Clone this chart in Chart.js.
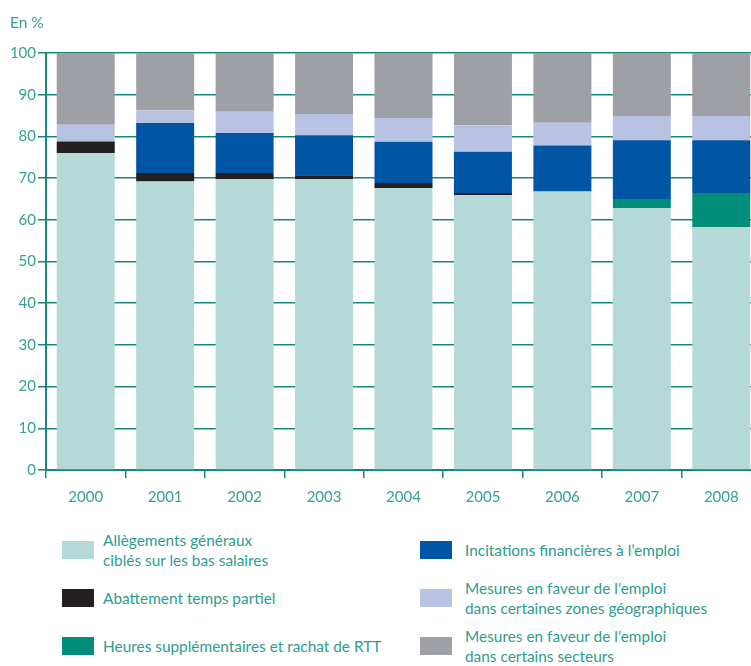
<!DOCTYPE html>
<html>
<head>
<meta charset="utf-8">
<script src="https://cdn.jsdelivr.net/npm/chart.js@4/dist/chart.umd.min.js"></script>
<style>
  html, body { margin: 0; padding: 0; background: #fff; overflow: hidden; }
  #wrap { position: relative; width: 751px; height: 666px; overflow: hidden; }
  #box { position: absolute; left: 0; top: 0; width: 761px; height: 520px; }
  #unit { position: absolute; left: 10px; top: 13px; font: 15.5px Lato, sans-serif; color: #35a094; }
  .lg { position: absolute; display: flex; align-items: center; font: 15.4px Lato, sans-serif; color: #2e9c8f; line-height: 20px; }
  .lg i { display: inline-block; width: 32px; height: 18px; flex: none; }
</style>
</head>
<body>
<div id="wrap">
  <div id="box"><canvas id="c"></canvas></div>
  <div id="unit">En %</div>
  <div id="legend"></div>
</div>
<script>
const years = ['2000', '2001', '2002', '2003', '2004', '2005', '2006', '2007', '2008'];

// parts of the total, in %, bottom to top
const allegements = [76.0, 69.2, 69.7, 69.7, 67.6, 65.9, 66.8, 62.8, 58.2];
const abattement  = [2.8, 2.0, 1.5, 1.0, 1.2, 0.5, 0, 0, 0];
const heuresSup   = [0, 0, 0, 0, 0, 0, 0, 2.2, 8.2];
const incitations = [0, 12.0, 9.6, 9.6, 9.9, 9.9, 11.0, 14.1, 12.7];
const zones       = [4.0, 3.1, 5.1, 5.1, 5.7, 6.4, 5.5, 5.8, 5.8];
const secteurs    = [17.2, 13.7, 14.1, 14.6, 15.6, 17.3, 16.7, 15.1, 15.1];

const seriesNames = [
  ['Allègements généraux', 'ciblés sur les bas salaires'],
  ['Abattement temps partiel'],
  ['Heures supplémentaires et rachat de RTT'],
  ['Incitations financières à l’emploi'],
  ["Mesures en faveur de l'emploi", 'dans certaines zones géographiques'],
  ["Mesures en faveur de l'emploi", 'dans certains secteurs'],
];
const seriesData = [allegements, abattement, heuresSup, incitations, zones, secteurs];
const seriesColors = ['#b4d9d6', '#231f20', '#008e7b', '#0055a5', '#b8c2e2', '#9fa0a5'];

const teal = '#17877a';
const textTeal = '#35a094';

new Chart(document.getElementById('c'), {
  type: 'bar',
  data: {
    labels: years,
    datasets: seriesData.map((d, i) => ({
      label: seriesNames[i].join(' '),
      data: d,
      backgroundColor: seriesColors[i],
      borderWidth: 0,
      categoryPercentage: 1,
      barPercentage: 0.73,
    })),
  },
  options: {
    responsive: true,
    maintainAspectRatio: false,
    animation: false,
    layout: { padding: { top: 53, left: 0, right: 0, bottom: 0 } },
    scales: {
      x: {
        stacked: true,
        grid: { display: true, drawOnChartArea: false, color: teal, lineWidth: 1.5, tickLength: 8, offset: true },
        border: { color: teal, width: 2 },
        ticks: { color: textTeal, font: { family: 'Lato', size: 15 }, padding: 10 },
        afterFit: s => { s.height = 50; },
      },
      y: {
        stacked: true,
        min: 0, max: 100,
        grid: { color: teal, lineWidth: 1.5, tickLength: 8 },
        border: { color: teal, width: 2 },
        ticks: { stepSize: 10, color: textTeal, font: { family: 'Lato', size: 15 }, padding: 2 },
        afterFit: s => { s.width = 46; },
      },
    },
    plugins: { legend: { display: false }, tooltip: { enabled: false } },
  },
});

// legend, two columns, three rows
const legendPos = [
  { x: 62, y: 541, gap: 9 }, { x: 62, y: 589, gap: 9 }, { x: 62, y: 637, gap: 9 },
  { x: 420, y: 541, gap: 13 }, { x: 420, y: 589, gap: 13 }, { x: 420, y: 637, gap: 13 },
];
const legend = document.getElementById('legend');
seriesNames.forEach((lines, i) => {
  const el = document.createElement('div');
  el.className = 'lg';
  el.style.left = legendPos[i].x + 'px';
  el.style.top = (legendPos[i].y + 9 - lines.length * 10) + 'px';
  el.innerHTML = `<i style="background:${seriesColors[i]};margin-right:${legendPos[i].gap}px"></i><span>${lines.join('<br>')}</span>`;
  legend.appendChild(el);
});
</script>
</body>
</html>
